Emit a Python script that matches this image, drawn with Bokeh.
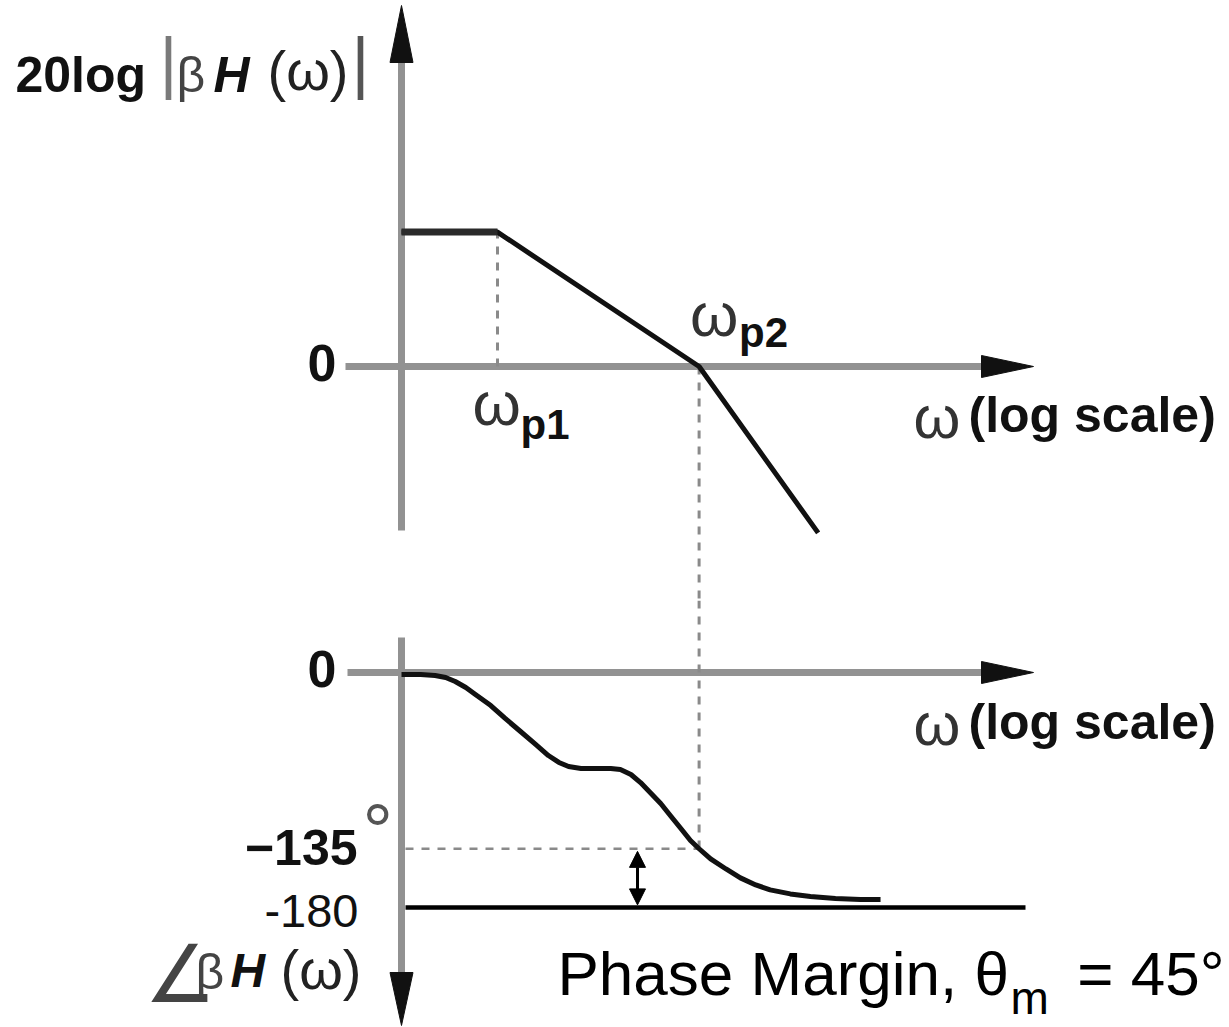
from bokeh.plotting import figure
from bokeh.layouts import column
from bokeh.models import Range1d, Arrow, NormalHead
from bokeh.core.properties import value
from bokeh.embed import file_html
from bokeh.resources import INLINE

# ---------------- data ----------------
# x = log-frequency position in decades, origin at the vertical axis
w_p1 = 1.0
w_p2 = 3.1
mag_x = [0.0, 1.0, 3.1, 4.34]
mag_db = [42, 42, 0, -52]
phase_x = [0.0, 0.20, 0.35, 0.46, 0.56, 0.67, 0.77, 0.93, 1.08, 1.24, 1.40, 1.53,
           1.64, 1.74, 1.87, 2.02, 2.18, 2.28, 2.39, 2.49, 2.59, 2.70, 2.80, 2.91,
           3.01, 3.10, 3.22, 3.38, 3.53, 3.69, 3.84, 4.05, 4.26, 4.52, 4.78, 4.99]
phase_deg = [-1.5, -1.5, -2.3, -3.8, -6.9, -11.5, -16.9, -25.3, -35.2, -45.2, -55.2, -63.6,
             -68.9, -72.0, -73.5, -73.5, -73.5, -74.3, -78.1, -84.3, -91.9, -100.3, -109.5, -119.5,
             -128.7, -135.0, -142.8, -150.5, -157.3, -162.7, -166.5, -169.6, -171.6, -173.1, -173.9, -173.9]
mag_tick_values = [0]
mag_tick_labels = ["0"]
phase_tick_values = [0, -135, -180]
phase_tick_labels = ["0", "\u2212135", "-180"]
crossover_phase = -135
phase_limit = -180

# ---------------- layout / scales ----------------
W = 1229
H_TOP = 600
H_BOT = 427
PX_PER_X = 96.0
PX_PER_DB = 3.2
PX_PER_DEG = 235.0 / 180.0
X0 = 401      # page x of x = 0
Y0_TOP = 366  # page y of 0 dB
Y0_BOT = 672  # page y of 0 deg
BASE_FIX = 0.38  # baseline correction, fraction of font size


def X(px):
    return (px - X0) / PX_PER_X


def YT(py):
    return (Y0_TOP - py) / PX_PER_DB


def YB(py):
    return (Y0_BOT - py) / PX_PER_DEG


AX = "#929292"
INK = "#111111"
SANS = value("Liberation Sans")

x_range = Range1d(X(0), X(W))


def make_fig(h, yr):
    p = figure(width=W, height=h, x_range=x_range, y_range=yr,
               x_axis_location=None, y_axis_location=None,
               output_backend="svg", toolbar_location=None, min_border=0)
    p.grid.visible = False
    p.outline_line_color = None
    p.background_fill_color = "white"
    p.border_fill_color = "white"
    return p


def txt(p, ppu, x, y, s, size, bold=False, italic=False, color=INK, align="left", font=SANS):
    style = "normal"
    if bold and italic:
        style = "bold italic"
    elif bold:
        style = "bold"
    elif italic:
        style = "italic"
    p.text(x=[x], y=[y + BASE_FIX * size / ppu], text=[s], text_font=font,
           text_font_size=f"{size}px", text_font_style=style, text_color=color,
           text_align=align, text_baseline="alphabetic")


# ================= magnitude =================
top = make_fig(H_TOP, Range1d(YT(H_TOP), YT(0)))
T = PX_PER_DB

# axes
top.line([0, 0], [YT(530), YT(45)], line_color=AX, line_width=7)
top.line([X(345), X(990)], [0, 0], line_color=AX, line_width=7)
hw = 11.5
top.patch([-hw / PX_PER_X, 0, hw / PX_PER_X], [YT(62), YT(5), YT(62)],
          fill_color=INK, line_color=INK)
top.patch([X(981), X(1033), X(981)], [11 / PX_PER_DB, 0, -11 / PX_PER_DB],
          fill_color=INK, line_color=INK)

# guides
top.line([w_p1, w_p1], [0, mag_db[0]], line_color="#8a8a8a", line_width=3, line_dash="8 8")
top.line([w_p2, w_p2], [0, top.y_range.start], line_color="#8a8a8a", line_width=3, line_dash="8 8")

# curve
top.line(mag_x, mag_db, line_color=INK, line_width=5, line_join="round")
top.line(mag_x[:2], mag_db[:2], line_color="#2a2a2a", line_width=7)

# labels
txt(top, T, X(15), YT(93), "20log", 50, bold=True)
txt(top, T, X(159), YT(88), "|", 69, color="#7a7a7a")
txt(top, T, X(176), YT(93), "\u03b2", 50, color="#444444")
txt(top, T, X(213), YT(93), "H", 50, bold=True, italic=True)
txt(top, T, X(267), YT(91), "(\u03c9)", 56, color="#222222")
txt(top, T, X(351), YT(88), "|", 69, color="#555555")

for v, lab in zip(mag_tick_values, mag_tick_labels):
    txt(top, T, X(336), v - 16 / T, lab, 52, bold=True, align="right")

txt(top, T, w_p1 - 25 / PX_PER_X, -61 / T, "\u03c9", 62, color="#333333")
txt(top, T, w_p1 + 23 / PX_PER_X, -74 / T, "p1", 42, bold=True)
txt(top, T, w_p2 - 9 / PX_PER_X, 28 / T, "\u03c9", 62, color="#333333")
txt(top, T, w_p2 + 40 / PX_PER_X, 18 / T, "p2", 42, bold=True)

txt(top, T, X(913), -74 / T, "\u03c9", 60, color="#333333")
txt(top, T, X(968), -67 / T, "(log scale)", 50, bold=True)

# ================= phase =================
bot = make_fig(H_BOT, Range1d(YB(H_TOP + H_BOT), YB(H_TOP)))
B = PX_PER_DEG

bot.line([0, 0], [YB(637), YB(980)], line_color=AX, line_width=7)
bot.line([X(347), X(990)], [0, 0], line_color=AX, line_width=7)
bot.patch([-hw / PX_PER_X, 0, hw / PX_PER_X], [YB(972), YB(1025), YB(972)],
          fill_color=INK, line_color=INK)
bot.patch([X(981), X(1033), X(981)], [11 / B, 0, -11 / B],
          fill_color=INK, line_color=INK)

# guides
bot.line([w_p2, w_p2], [bot.y_range.end, crossover_phase], line_color="#8a8a8a",
         line_width=3, line_dash="8 8")
bot.line([X(405), w_p2], [crossover_phase, crossover_phase], line_color="#8a8a8a",
         line_width=2.5, line_dash="8 8")
bot.line([X(405), X(1025)], [phase_limit, phase_limit], line_color="black", line_width=4.5)

# phase-margin arrow
pm_x = X(637)
bot.add_layout(Arrow(x_start=pm_x, y_start=phase_limit + 2, x_end=pm_x, y_end=crossover_phase - 2,
                     line_width=3, line_color="black",
                     start=NormalHead(size=16, fill_color="black", line_color="black"),
                     end=NormalHead(size=16, fill_color="black", line_color="black")))

# curve
bot.line(phase_x, phase_deg, line_color=INK, line_width=5, line_join="round")

# tick labels
txt(bot, B, X(336), phase_tick_values[0] - 16 / B, phase_tick_labels[0], 52, bold=True, align="right")
txt(bot, B, X(357), phase_tick_values[1] - 18 / B, phase_tick_labels[1], 50, bold=True, align="right")
txt(bot, B, X(362), phase_tick_values[1] - 11 / B, "\u00b0", 76, color="#555555")
txt(bot, B, X(358), phase_tick_values[2] - 21 / B, phase_tick_labels[2], 47, align="right")

txt(bot, B, X(913), -75 / B, "\u03c9", 60, color="#333333")
txt(bot, B, X(968), -68 / B, "(log scale)", 50, bold=True)

# angle label
txt(bot, B, X(144), YB(1004), "\u2220", 80, color="#444444", font=value("DejaVu Sans"))
txt(bot, B, X(195), YB(990), "\u03b2", 50, color="#444444")
txt(bot, B, X(230), YB(988), "H", 48, bold=True, italic=True)
txt(bot, B, X(280), YB(990), "(\u03c9)", 56, color="#222222")

# phase margin caption
txt(bot, B, X(557), YB(997), "Phase Margin, \u03b8", 62, color="black")
txt(bot, B, X(1010), YB(1015), "m", 46, color="black")
txt(bot, B, X(1224), YB(997), "= 45\u00b0", 62, color="black", align="right")

layout = column(top, bot, spacing=0)
open("out.html", "w").write(file_html(layout, INLINE))
